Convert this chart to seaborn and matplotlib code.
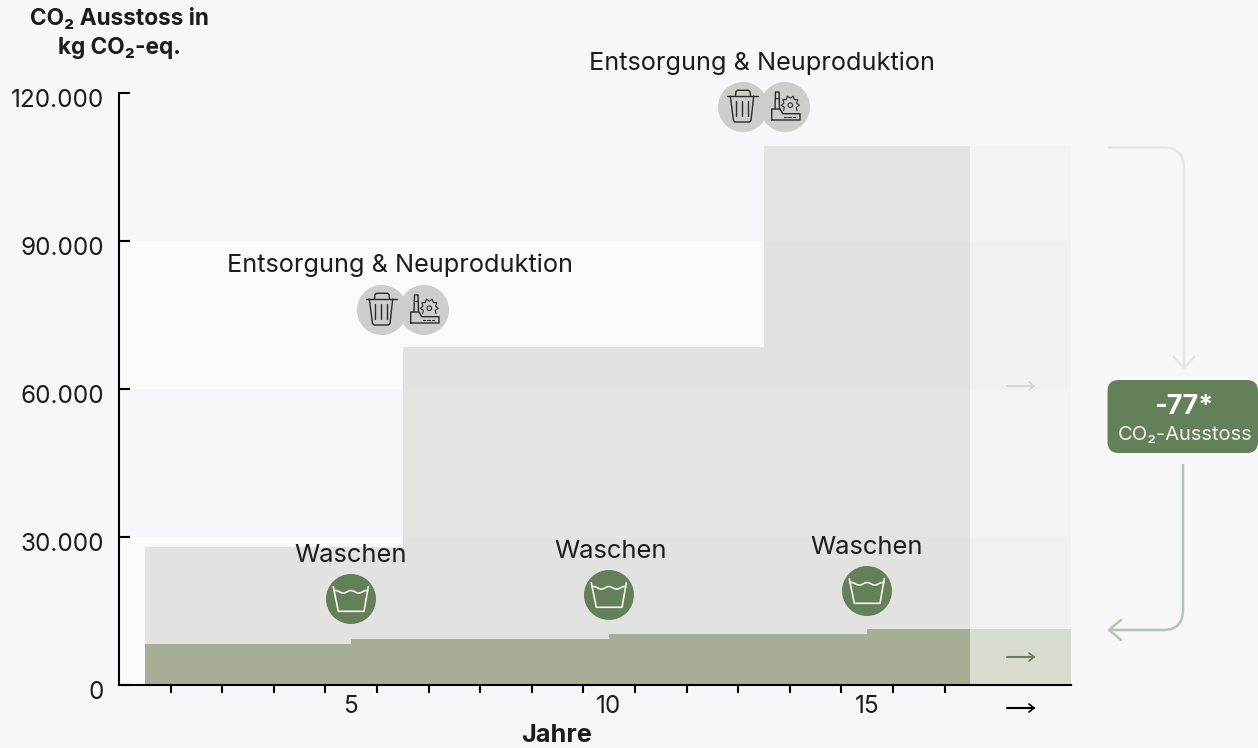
import matplotlib
matplotlib.use("Agg")
import matplotlib.pyplot as plt
import numpy as np
import pandas as pd
import seaborn as sns
from matplotlib.patches import Circle, FancyBboxPatch, PathPatch
from matplotlib.path import Path
from matplotlib.transforms import ScaledTranslation

sns.set_theme(style="white")
plt.rcParams["font.family"] = ["Inter", "DejaVu Sans"]

# Werte
total_edges = [1, 6, 13, 17]
total_values = [28000, 68500, 109300]
wash_edges = [1, 5, 10, 15, 17]
wash_values = [8300, 9300, 10300, 11350]
future_edges = [17, 18.95]
future_total = [109300]
future_wash = [11350]
y_ticks = [0, 30000, 60000, 90000, 120000]
y_labels = ["0", "30.000", "60.000", "90.000", "120.000"]
x_labels = [5, 10, 15]
half_years = [y + 0.5 for y in range(1, 17)]

BG = "#f7f7fa"
GREEN = "#648058"
ICON_GREY = "#cdcdcb"
TEXT = "#1c1c1c"
W, H = 1258, 748


def step_hist(ax, edges, values, color):
    df = pd.DataFrame({"x": edges[:-1], "v": values})
    sns.histplot(data=df, x="x", weights="v", bins=edges, color=color,
                 alpha=1, linewidth=0, ax=ax, legend=False)


fig = plt.figure(figsize=(W / 100, H / 100), dpi=100, facecolor=BG)
ax = fig.add_axes([119 / W, 1 - 685 / H, (1071 - 119) / W, (685 - 93) / H], facecolor=BG)

# helle Baender im Hintergrund
ax.axhspan(0, 30000, color="#fafafb", lw=0, zorder=0)
ax.axhspan(60000, 90000, color="#fafafb", lw=0, zorder=0)

step_hist(ax, total_edges, total_values, "#e4e4e2")
step_hist(ax, future_edges, future_total, "#f3f3f1")

# in den grauen Flaechen sind die Baender etwas dunkler
all_edges = total_edges + future_edges[1:]
all_values = total_values + future_total
verts = [(all_edges[0], 0)]
for i, v in enumerate(all_values):
    verts += [(all_edges[i], v), (all_edges[i + 1], v)]
verts += [(all_edges[-1], 0), (all_edges[0], 0)]
area = Path(verts)
for lo, hi in [(0, 30000), (60000, 90000)]:
    tint = ax.axhspan(lo, hi, color="black", alpha=0.009, lw=0)
    tint.set_clip_path(area, transform=ax.transData)

step_hist(ax, wash_edges, wash_values, "#a6ae96")
step_hist(ax, future_edges, future_wash, "#d7dbd0")

ax.set_xlim(0.5, 18.95)
ax.set_ylim(0, 120000)
ax.set_xlabel("")
ax.set_ylabel("")
sns.despine(ax=ax)
ax.spines["left"].set_linewidth(1.5)
ax.spines["bottom"].set_linewidth(1.5)
ax.spines["left"].set_color("black")
ax.spines["bottom"].set_color("black")

ax.set_yticks(y_ticks)
ax.set_yticklabels(y_labels, fontsize=17.5, color=TEXT)
ax.tick_params(axis="y", direction="in", left=True, length=8, width=1.5, color="black", pad=10.8)
down = ScaledTranslation(0, -5 / 100, fig.dpi_scale_trans)
for lab in ax.get_yticklabels():
    lab.set_transform(lab.get_transform() + down)
ax.set_xticks(half_years)
ax.set_xticklabels([])
ax.tick_params(axis="x", which="major", length=6, width=1.5, color="black", bottom=True)

# Ueberlagerung in Pixelkoordinaten fuer Texte und Icons
ov = fig.add_axes([0, 0, 1, 1], facecolor="none")
ov.set_xlim(0, W)
ov.set_ylim(H, 0)
ov.axis("off")

for lab in x_labels:
    ov.text(ax.transData.transform((lab, 0))[0] - 0.5, 706.5, str(lab), ha="center", va="center",
            fontsize=17.5, color=TEXT)
ov.text(557, 736, "Jahre", ha="center", va="center", fontsize=18.2, fontweight="bold", color=TEXT)
ov.text(119, 19, "CO₂ Ausstoss in", ha="center", va="center", fontsize=16.3, fontweight="bold", color=TEXT)
ov.text(119, 48, "kg CO₂-eq.", ha="center", va="center", fontsize=16.3, fontweight="bold", color=TEXT)

ov.text(400, 265, "Entsorgung & Neuproduktion", ha="center", va="center", fontsize=18.2, color=TEXT)
ov.text(762, 63, "Entsorgung & Neuproduktion", ha="center", va="center", fontsize=18.2, color=TEXT)


def line(pts, color="#2a2a2a", lw=1.0):
    xs, ys = zip(*pts)
    ov.plot(xs, ys, color=color, lw=lw, solid_capstyle="round", solid_joinstyle="round")


def trash_icon(cx, cy):
    ov.add_patch(Circle((cx, cy), 25, color=ICON_GREY, lw=0))
    line([(cx - 16, cy - 11), (cx + 15, cy - 11)])
    line([(cx - 7.5, cy - 11), (cx - 7, cy - 15.5), (cx - 5.5, cy - 16.7), (cx + 5.5, cy - 16.7),
          (cx + 7, cy - 15.5), (cx + 7.5, cy - 11)])
    line([(cx - 12.7, cy - 11), (cx - 9.5, cy + 13.5), (cx - 8, cy + 15), (cx + 6.5, cy + 15),
          (cx + 8, cy + 13.5), (cx + 10.7, cy - 11)])
    for dx in (-7, -1.3, 5):
        line([(cx + dx, cy - 5.7), (cx + dx, cy + 9.3)])


def factory_icon(cx, cy):
    ov.add_patch(Circle((cx, cy), 25, color=ICON_GREY, lw=0))
    line([(cx - 13.3, cy + 13), (cx - 13.3, cy + 2), (cx - 5, cy + 2), (cx - 2.3, cy + 6.7),
          (cx + 15, cy + 6.7), (cx + 15, cy + 13), (cx - 13.3, cy + 13)])
    line([(cx - 10, cy + 2), (cx - 9.5, cy - 15), (cx - 6, cy - 15), (cx - 5.5, cy + 2)])
    line([(cx - 10, cy - 9), (cx - 6, cy - 9)], lw=0.8)
    for dx in (-1.5, 3, 7.5):
        line([(cx + dx, cy + 9.5), (cx + dx + 2.5, cy + 9.5)], lw=0.8)
    # Zahnrad unten offen gezeichnet wie im Original
    a = np.linspace(-2.3, 2.3, 15)
    r = np.where(np.arange(15) % 2 == 0, 9, 6.5)
    gx, gy = cx + 5.3, cy - 2.3
    line(list(zip(gx + r * np.sin(a), gy - r * np.cos(a))), lw=0.8)
    ov.add_patch(Circle((gx, gy + 0.5), 2.3, fc="none", ec="#2a2a2a", lw=0.8))


def wash_icon(cx, cy):
    ov.add_patch(Circle((cx, cy), 25, color=GREEN, lw=0))
    tub = "#f5f5f0"
    line([(cx - 17.7, cy - 12.3), (cx - 12.7, cy + 12.3), (cx + 13, cy + 12.3), (cx + 17.3, cy - 12.3)],
         color=tub, lw=1.2)
    u = np.linspace(-17, 17, 40)
    wave = cy - 7.2 - 1.3 * np.cos(2 * np.pi * u / 15.4)
    line(list(zip(cx + u, wave)), color=tub, lw=1.2)


trash_icon(382, 310)
factory_icon(424, 310)
trash_icon(743, 107)
factory_icon(785, 107)
for tx, wy, ix, iy in [(351, 556, 351, 599), (611, 552, 609, 595), (867, 548, 867, 591)]:
    ov.text(tx, wy, "Waschen", ha="center", va="center", fontsize=18.4, color=TEXT)
    wash_icon(ix, iy)


def small_arrow(x0, x1, y, color, lw=1.2):
    ov.plot([x0, x1], [y, y], color=color, lw=lw)
    ov.plot([x1 - 5, x1, x1 - 5], [y - 4, y, y + 4], color=color, lw=lw * 0.8)


small_arrow(1007, 1034, 386, "#d0d3cb")
small_arrow(1007, 1034, 657, GREEN, lw=1.5)
small_arrow(1007, 1034, 708, "black", lw=1.5)

# Klammerpfeile rechts
GREY_ARROW = "#e6e6e6"
SAGE_ARROW = "#b5c4ad"
p = Path([(1108, 147.5), (1163, 147.5), (1184, 147.5), (1184, 168), (1184, 368)],
         [Path.MOVETO, Path.LINETO, Path.CURVE3, Path.CURVE3, Path.LINETO])
ov.add_patch(PathPatch(p, fc="none", ec=GREY_ARROW, lw=1.8))
line([(1174, 357), (1184, 368), (1194, 357)], color=GREY_ARROW, lw=1.8)
p = Path([(1183, 464), (1183, 610), (1183, 630), (1163, 630), (1110, 630)],
         [Path.MOVETO, Path.LINETO, Path.CURVE3, Path.CURVE3, Path.LINETO])
ov.add_patch(PathPatch(p, fc="none", ec=SAGE_ARROW, lw=1.8))
line([(1121, 620), (1109, 630), (1121, 640)], color=SAGE_ARROW, lw=1.8)

ov.add_patch(FancyBboxPatch((1107.5, 380), 150.5, 73, boxstyle="round,pad=0,rounding_size=11",
                            fc=GREEN, ec="none", lw=0, clip_on=False))
ov.text(1184, 407, "-77*", ha="center", va="center", fontsize=19.5, fontweight="bold", color="white")
ov.text(1185, 435, "CO₂-Ausstoss", ha="center", va="center", fontsize=14.5, color="#f2f2ee")

fig.savefig("out.png", dpi=100, facecolor=BG)
